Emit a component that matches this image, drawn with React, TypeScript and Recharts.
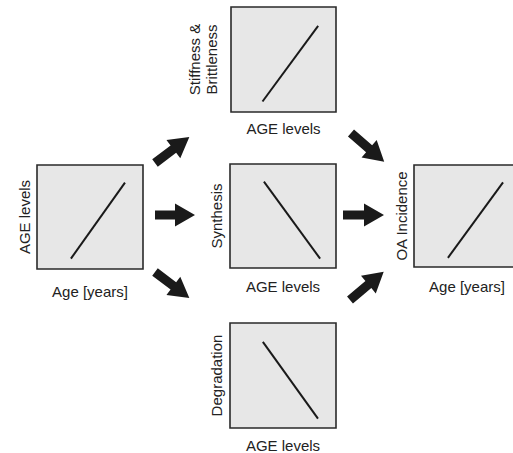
import { LineChart, Line, XAxis, YAxis, ReferenceArea } from "recharts"

// two-point trend lines (domain 0..10 on both axes)
const ageVsYears = [
  { x: 3.2, y: 1.0 },
  { x: 8.3, y: 8.3 },
]
const stiffnessVsAge = [
  { x: 3.0, y: 1.0 },
  { x: 8.3, y: 8.2 },
]
const synthesisVsAge = [
  { x: 3.2, y: 8.3 },
  { x: 8.5, y: 0.9 },
]
const degradationVsAge = [
  { x: 3.1, y: 8.2 },
  { x: 8.3, y: 0.9 },
]
const oaVsYears = [
  { x: 3.2, y: 0.9 },
  { x: 8.4, y: 8.3 },
]

const xLabels = ["Age [years]", "AGE levels", "AGE levels", "AGE levels", "Age [years]"]
const yLabels = [["AGE levels"], ["Stiffness &", "Brittleness"], ["Synthesis"], ["Degradation"], ["OA Incidence"]]

const FONT = "'Liberation Sans', Arial, sans-serif"
const PAD_L = 50
const PAD_T = 4
const PAD_R = 4
const PAD_B = 36

type Box = { x: number; y: number; w: number; h: number }

function XLabel({ box, text, gap }: { box: Box; text: string; gap: number }) {
  return (
    <text x={PAD_L + box.w / 2} y={PAD_T + box.h + gap} textAnchor="middle" fontFamily={FONT} fontSize={15} fill="#222">
      {text}
    </text>
  )
}

function YLabel({ box, lines, gap }: { box: Box; lines: string[]; gap: number }) {
  const cy = PAD_T + box.h / 2
  return (
    <g>
      {lines.map((s, i) => {
        const x = PAD_L - gap - (lines.length - 1 - i) * 17
        return (
          <text
            key={s}
            x={x}
            y={cy}
            transform={`rotate(-90, ${x}, ${cy})`}
            textAnchor="middle"
            fontFamily={FONT}
            fontSize={15}
            fill="#222"
          >
            {s}
          </text>
        )
      })}
    </g>
  )
}

function Panel({ box, data, xLabel, yLines, xGap, yGap }: {
  box: Box
  data: { x: number; y: number }[]
  xLabel: string
  yLines: string[]
  xGap: number
  yGap: number
}) {
  return (
    <div style={{ position: "absolute", left: box.x - PAD_L, top: box.y - PAD_T }}>
      <LineChart
        width={PAD_L + box.w + PAD_R}
        height={PAD_T + box.h + PAD_B}
        data={data}
        margin={{ top: PAD_T, right: PAD_R, left: 0, bottom: 0 }}
      >
        <XAxis
          type="number"
          dataKey="x"
          domain={[0, 10]}
          height={PAD_B}
          tick={false}
          tickLine={false}
          axisLine={false}
          label={<XLabel box={box} text={xLabel} gap={xGap} />}
        />
        <YAxis
          type="number"
          domain={[0, 10]}
          width={PAD_L}
          tick={false}
          tickLine={false}
          axisLine={false}
          label={<YLabel box={box} lines={yLines} gap={yGap} />}
        />
        <ReferenceArea x1={0} x2={10} y1={0} y2={10} fill="#e7e7e7" fillOpacity={1} stroke="#2a2a2a" strokeWidth={1.6} />
        <Line dataKey="y" stroke="#1a1a1a" strokeWidth={2} dot={false} isAnimationActive={false} />
      </LineChart>
    </div>
  )
}

// arrows: tail point, angle in degrees, length
const arrows = [
  { x: 155, y: 163, a: -37, l: 43 },
  { x: 155, y: 215, a: 0, l: 40 },
  { x: 155, y: 272, a: 37, l: 43 },
  { x: 351, y: 133, a: 41, l: 44 },
  { x: 343, y: 215, a: 0, l: 41 },
  { x: 350, y: 300, a: -40, l: 44 },
]

function Arrow({ x, y, a, l }: { x: number; y: number; a: number; l: number }) {
  const hl = 20
  const pts = [
    [0, -4.6], [l - hl, -4.6], [l - hl, -11.5], [l, 0], [l - hl, 11.5], [l - hl, 4.6], [0, 4.6],
  ].map((p) => p.join(",")).join(" ")
  return <polygon points={pts} fill="#1a1a1a" transform={`translate(${x},${y}) rotate(${a})`} />
}

export default function App() {
  return (
    <div style={{ position: "absolute", left: 0, top: 0, width: 513, height: 453, overflow: "hidden", background: "#fff" }}>
      <Panel box={{ x: 37, y: 165, w: 106, h: 104 }} data={ageVsYears} xLabel={xLabels[0]} yLines={yLabels[0]} xGap={28} yGap={7.5} />
      <Panel box={{ x: 231, y: 7, w: 105, h: 105 }} data={stiffnessVsAge} xLabel={xLabels[1]} yLines={yLabels[1]} xGap={21.5} yGap={14.5} />
      <Panel box={{ x: 230, y: 164, w: 106, h: 104 }} data={synthesisVsAge} xLabel={xLabels[2]} yLines={yLabels[2]} xGap={23.5} yGap={8.5} />
      <Panel box={{ x: 230, y: 323, w: 106, h: 105 }} data={degradationVsAge} xLabel={xLabels[3]} yLines={yLabels[3]} xGap={23} yGap={8} />
      <Panel box={{ x: 414, y: 165, w: 106, h: 102 }} data={oaVsYears} xLabel={xLabels[4]} yLines={yLabels[4]} xGap={25} yGap={7} />
      <svg width={513} height={453} style={{ position: "absolute", left: 0, top: 0, pointerEvents: "none" }}>
        {arrows.map((ar, i) => (
          <Arrow key={i} {...ar} />
        ))}
      </svg>
    </div>
  )
}
